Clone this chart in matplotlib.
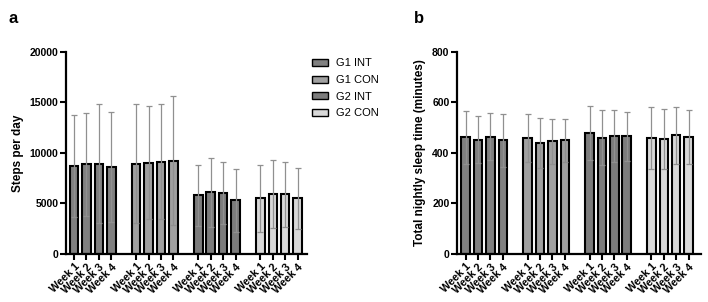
import numpy as np
import matplotlib
matplotlib.use("Agg")
import matplotlib.pyplot as plt
from matplotlib.patches import Patch

plt.rcParams['font.family'] = ['Liberation Sans', 'DejaVu Sans']

groups = ['G1 INT', 'G1 CON', 'G2 INT', 'G2 CON']
weeks = ['Week 1', 'Week 2', 'Week 3', 'Week 4']
colors = ['#808080', '#a0a0a0', '#7c7c7c', '#d8d8d8']

# steps per day: mean and SD per group, weeks 1-4
steps_mean = [
    [8750, 8900, 8950, 8600],
    [8950, 9050, 9150, 9250],
    [5800, 6100, 6050, 5300],
    [5500, 5950, 5900, 5500],
]
steps_sd = [
    [5050, 5100, 5900, 5450],
    [5850, 5600, 5700, 6400],
    [3050, 3450, 3050, 3100],
    [3350, 3400, 3200, 3000],
]

# total nightly sleep time (minutes)
sleep_mean = [
    [463, 452, 465, 450],
    [459, 438, 446, 450],
    [480, 461, 468, 466],
    [459, 455, 470, 464],
]
sleep_sd = [
    [105, 93, 93, 105],
    [96, 99, 88, 85],
    [107, 110, 102, 97],
    [122, 120, 112, 108],
]


def draw_panel(ax, means, sds, ymax, yticks, ylabel, xlim):
    tick_pos = []
    tick_lab = []
    for g in range(len(groups)):
        x = np.arange(4) + g * 5
        ax.bar(x, means[g], width=0.68, color=colors[g], edgecolor='black',
               linewidth=1.5, zorder=2)
        ax.errorbar(x, means[g], yerr=sds[g], fmt='none', ecolor='#909090',
                    elinewidth=0.9, capsize=2.5, capthick=0.9, zorder=3)
        tick_pos.extend(x)
        tick_lab.extend(weeks)
    ax.set_xticks(tick_pos)
    ax.set_xticklabels(tick_lab, rotation=45, ha='right', rotation_mode='anchor',
                       fontsize=7.8, fontweight='bold')
    ax.set_ylim(0, ymax)
    ax.set_yticks(yticks)
    ax.set_yticklabels([str(t) for t in yticks], fontsize=7.5, fontweight='bold')
    ax.set_xlim(*xlim)
    ax.set_ylabel(ylabel, fontsize=8.5, fontweight='bold')
    for s in ['top', 'right']:
        ax.spines[s].set_visible(False)
    for s in ['left', 'bottom']:
        ax.spines[s].set_linewidth(1.6)
    ax.tick_params(axis='both', direction='out', length=4, width=1.5, pad=1.5)


fig = plt.figure(figsize=(7.08, 3.02), dpi=100)
ax1 = fig.add_axes([0.0932, 0.159, 0.3404, 0.669])
ax2 = fig.add_axes([0.6455, 0.159, 0.3446, 0.669])

draw_panel(ax1, steps_mean, steps_sd, 20000, [0, 5000, 10000, 15000, 20000],
           'Steps per day', (-0.65, 18.75))
draw_panel(ax2, sleep_mean, sleep_sd, 800, [0, 200, 400, 600, 800],
           'Total nightly sleep time (minutes)', (-0.7, 19.0))

handles = [Patch(facecolor=c, edgecolor='black', linewidth=1.0) for c in colors]
fig.legend(handles, groups, loc='upper left', bbox_to_anchor=(0.427, 0.84),
           frameon=False, fontsize=8, handlelength=1.4, handleheight=0.6,
           labelspacing=0.6, handletextpad=0.7)

fig.text(0.012, 0.925, 'a', fontsize=12, fontweight='bold')
fig.text(0.585, 0.925, 'b', fontsize=12, fontweight='bold')

fig.savefig('out.png', dpi=100)
